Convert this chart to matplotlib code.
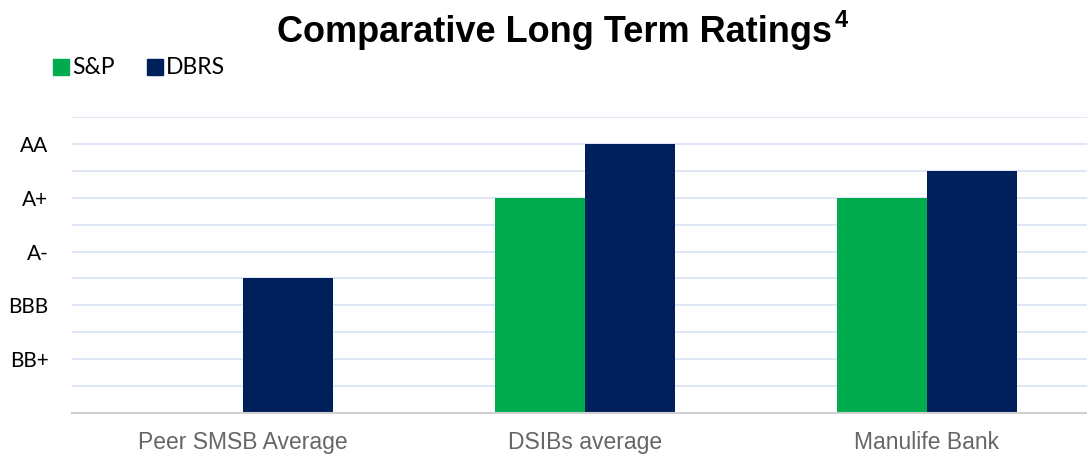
import matplotlib
matplotlib.use("Agg")
import matplotlib.pyplot as plt
import numpy as np
from matplotlib.patches import Rectangle

categories = ["Peer SMSB Average", "DSIBs average", "Manulife Bank"]
sp_values = [0, 8, 8]
dbrs_values = [5, 10, 9]
tick_positions = [2, 4, 6, 8, 10]
tick_labels = ["BB+", "BBB", "A-", "A+", "AA"]
series_names = ["S&P", "DBRS"]
colors = ["#00AC4E", "#00205B"]

fig = plt.figure(figsize=(10.87, 4.58), dpi=100)
ax = fig.add_axes([72/1087, 1 - 413/458, 1 - 72/1087, (413 - 117)/458])

x = np.arange(len(categories))
w = 0.263
ax.bar(x - w/2, sp_values, w, color=colors[0], zorder=3)
ax.bar(x + w/2, dbrs_values, w, color=colors[1], zorder=3)

ax.set_xlim(-0.5, 2.468)
ax.set_ylim(0, 11)
ax.set_yticks(range(1, 12), minor=False)
ax.set_yticklabels([tick_labels[tick_positions.index(v)] if v in tick_positions else "" for v in range(1, 12)],
                   fontsize=15, family="Lato", color="black")
ax.yaxis.grid(True, color="#D9E2F3", linewidth=1.2, zorder=0)
ax.tick_params(axis="y", length=0, pad=17)
ax.set_xticks(x)
ax.set_xticklabels(categories, fontsize=16.5, color="#666666", family="Liberation Sans")
ax.tick_params(axis="x", length=0, pad=13)
for s in ["top", "right", "left"]:
    ax.spines[s].set_visible(False)
ax.spines["bottom"].set_color("#D0D0D0")
ax.spines["bottom"].set_linewidth(1.5)
ax.spines["bottom"].set_zorder(4)

fig.text(832/1087, 1 - 42/458, "Comparative Long Term Ratings", ha="right", va="baseline",
         fontsize=26, fontweight="bold", family="Liberation Sans")
fig.text(835/1087, 1 - 27/458, "4", ha="left", va="baseline",
         fontsize=17, fontweight="bold", family="Liberation Sans")

# legend
for i, (name, xs) in enumerate(zip(series_names, [53, 147])):
    fig.patches.append(Rectangle((xs/1087, 1 - 75/458), 16/1087, 16/458,
                                 transform=fig.transFigure, color=colors[i]))
    fig.text((xs + 19)/1087, 1 - 67/458, name, ha="left", va="center",
             fontsize=16.5, family="Lato")

fig.savefig("out.png", dpi=100)
